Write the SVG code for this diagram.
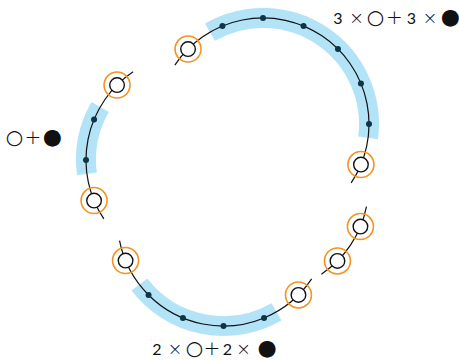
<svg xmlns="http://www.w3.org/2000/svg" width="459" height="360" viewBox="0 0 459 360">
<style>
.band{fill:none;stroke:#b3e3f7;stroke-width:20;stroke-linecap:butt}
.line{fill:none;stroke:#111;stroke-width:1.2}
.ring{fill:none;stroke:#f39322;stroke-width:1.6}
.open{fill:#fff;stroke:#111;stroke-width:1.4}
.dot{fill:#0d3447}
.lbl{font-family:Lato,"Liberation Sans",sans-serif;font-size:16px;fill:#111;text-anchor:middle}
.sym{font-family:"DejaVu Sans",sans-serif;font-size:20px}
.big{font-family:"DejaVu Sans",sans-serif;font-size:22px}
.op{font-family:"DejaVu Sans",sans-serif;font-size:18px;font-weight:200}
.pl{font-family:"DejaVu Sans",sans-serif;font-size:20px;font-weight:200}
</style>
<rect width="459" height="360" fill="#fff"/>
<g id="bands">
<path class="band" d="M210 32.2 A106 106 0 0 1 368.09 137.84"/>
<path class="band" d="M86.91 173.84 A106 106 0 0 1 100.2 107"/>
<path class="band" d="M276.5 311.8 A106 106 0 0 1 139.4 284.53"/>
</g>
<g id="connectors">
<path class="line" d="M174.86 65.11 A106 106 0 0 1 321.89 35.86 A106 106 0 0 1 351.14 182.89"/>
<path class="line" d="M103.86 218.89 A106 106 0 0 1 133.11 71.86"/>
<path class="line" d="M311.64 278.89 A106 106 0 0 1 119.54 240.68"/>
<path class="line" d="M366.46 206.68 A106 106 0 0 1 321.39 274.14"/>
</g>
<g id="top-arc">
<circle class="dot" cx="222.44" cy="26.07" r="3"/>
<circle class="dot" cx="263" cy="18" r="3"/>
<circle class="dot" cx="303.56" cy="26.07" r="3"/>
<circle class="dot" cx="337.95" cy="49.05" r="3"/>
<circle class="dot" cx="360.93" cy="83.44" r="3"/>
<circle class="dot" cx="369" cy="124" r="3"/>
</g>
<g id="left-arc">
<circle class="dot" cx="94.07" cy="119.44" r="3"/>
<circle class="dot" cx="86" cy="160" r="3"/>
</g>
<g id="bottom-arc">
<circle class="dot" cx="264.06" cy="317.93" r="3"/>
<circle class="dot" cx="223.5" cy="326" r="3"/>
<circle class="dot" cx="182.94" cy="317.93" r="3"/>
<circle class="dot" cx="148.55" cy="294.95" r="3"/>
</g>
<g id="o1"><circle class="ring" cx="188.05" cy="49.05" r="13"/><circle class="open" cx="188.05" cy="49.05" r="7.3"/></g>
<g id="o2"><circle class="ring" cx="360.93" cy="164.56" r="13"/><circle class="open" cx="360.93" cy="164.56" r="7.3"/></g>
<g id="o3"><circle class="ring" cx="117.05" cy="85.05" r="13"/><circle class="open" cx="117.05" cy="85.05" r="7.3"/></g>
<g id="o4"><circle class="ring" cx="94.07" cy="200.56" r="13"/><circle class="open" cx="94.07" cy="200.56" r="7.3"/></g>
<g id="o5"><circle class="ring" cx="125.57" cy="260.56" r="13"/><circle class="open" cx="125.57" cy="260.56" r="7.3"/></g>
<g id="o6"><circle class="ring" cx="298.45" cy="294.95" r="13"/><circle class="open" cx="298.45" cy="294.95" r="7.3"/></g>
<g id="o7"><circle class="ring" cx="360.43" cy="226.56" r="13"/><circle class="open" cx="360.43" cy="226.56" r="7.3"/></g>
<g id="o8"><circle class="ring" cx="337.45" cy="260.95" r="13"/><circle class="open" cx="337.45" cy="260.95" r="7.3"/></g>
<g id="labels">
<text class="lbl" y="24"><tspan x="338">3</tspan><tspan class="op" x="356.5">×</tspan><tspan class="sym" x="375.5">○</tspan><tspan class="pl" x="394.5">+</tspan><tspan x="411.3">3</tspan><tspan class="op" x="430">×</tspan><tspan class="big" x="450.3">●</tspan></text>
<text class="lbl" y="143.5"><tspan class="sym" x="14.5">○</tspan><tspan class="pl" x="33">+</tspan><tspan class="big" x="52.3">●</tspan></text>
<text class="lbl" y="355"><tspan x="157">2</tspan><tspan class="op" x="175">×</tspan><tspan class="sym" x="194.5">○</tspan><tspan class="pl" x="212">+</tspan><tspan x="227.5">2</tspan><tspan class="op" x="243.5">×</tspan><tspan class="big" x="267">●</tspan></text>
</g>
</svg>
